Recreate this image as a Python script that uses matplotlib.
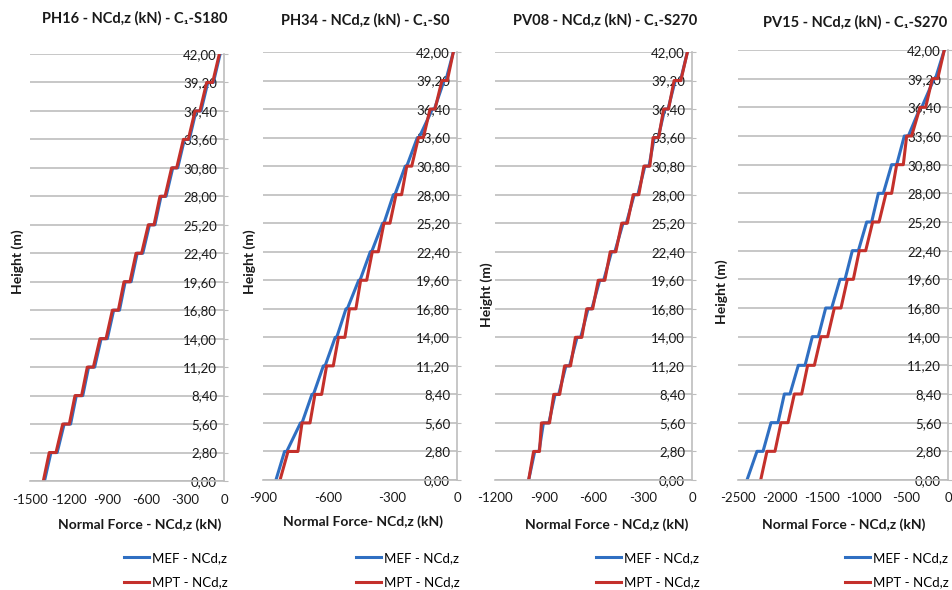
import numpy as np
import matplotlib
matplotlib.use("Agg")
import matplotlib.pyplot as plt

plt.rcParams['font.family'] = ['Lato', 'DejaVu Sans']

# floor levels (m), top to bottom
levels = [42.0, 39.2, 36.4, 33.6, 30.8, 28.0, 25.2, 22.4, 19.6, 16.8, 14.0, 11.2, 8.4, 5.6, 2.8, 0.0]
level_labels = ['42,00', '39,20', '36,40', '33,60', '30,80', '28,00', '25,20', '22,40',
                '19,60', '16,80', '14,00', '11,20', '8,40', '5,60', '2,80', '0,00']

# normal force (kN) just above / just below each floor level
ph16_mef_above = [-30, -82, -178, -268, -358, -448, -534, -628, -718, -808, -902, -1000, -1092, -1186, -1290, -1388]
ph16_mef_below = [-30, -125, -216, -306, -396, -487, -576, -671, -764, -853, -950, -1047, -1142, -1236, -1338, -1388]
ph16_mpt_above = [-36, -88, -186, -276, -366, -456, -541, -637, -727, -817, -912, -1010, -1101, -1196, -1299, -1397]
ph16_mpt_below = [-36, -134, -224, -314, -405, -495, -585, -680, -773, -863, -959, -1057, -1152, -1247, -1351, -1397]

ph34_mef_above = [-17, -52, -105, -176, -233, -288, -339, -396, -450, -509, -558, -612, -666, -719, -790, -840]
ph34_mef_below = [-17, -60, -114, -184, -240, -295, -345, -402, -456, -515, -565, -620, -673, -726, -800, -840]
ph34_mpt_above = [-17, -45, -102, -156, -210, -257, -311, -365, -419, -469, -520, -574, -628, -682, -738, -821]
ph34_mpt_below = [-17, -70, -125, -179, -233, -283, -339, -393, -447, -499, -550, -605, -659, -719, -784, -821]

pv08_mef_above = [-28, -70, -146, -206, -262, -330, -400, -470, -538, -610, -678, -746, -812, -872, -932, -995]
pv08_mef_below = [-28, -102, -166, -230, -287, -352, -420, -490, -562, -633, -700, -768, -834, -905, -958, -995]
pv08_mpt_above = [-28, -68, -143, -203, -257, -324, -394, -464, -531, -605, -671, -740, -806, -868, -929, -995]
pv08_mpt_below = [-28, -109, -173, -237, -293, -358, -428, -498, -571, -641, -710, -776, -842, -917, -965, -995]

pv15_mef_above = [-44, -150, -313, -472, -611, -770, -909, -1067, -1226, -1385, -1544, -1702, -1881, -2024, -2202, -2393]
pv15_mef_below = [-44, -165, -330, -520, -671, -829, -968, -1139, -1286, -1456, -1615, -1782, -1948, -2107, -2274, -2393]
pv15_mpt_above = [-44, -123, -266, -433, -532, -671, -821, -980, -1127, -1274, -1433, -1591, -1742, -1905, -2060, -2230]
pv15_mpt_below = [-44, -187, -333, -492, -611, -738, -897, -1056, -1198, -1353, -1512, -1671, -1829, -1988, -2155, -2230]

titles = ['PH16 - NCd,z (kN) - C\u2081-S180', 'PH34 - NCd,z (kN) - C\u2081-S0',
          'PV08 - NCd,z (kN) - C\u2081-S270', 'PV15 - NCd,z (kN) - C\u2081-S270']
xlabels = ['Normal Force - NCd,z (kN)', 'Normal Force- NCd,z (kN)',
           'Normal Force - NCd,z (kN)', 'Normal Force - NCd,z (kN)']
xticks_all = [[-1500, -1200, -900, -600, -300, 0], [-900, -600, -300, 0],
              [-1200, -900, -600, -300, 0], [-2500, -2000, -1500, -1000, -500, 0]]
series = [(ph16_mef_above, ph16_mef_below, ph16_mpt_above, ph16_mpt_below),
          (ph34_mef_above, ph34_mef_below, ph34_mpt_above, ph34_mpt_below),
          (pv08_mef_above, pv08_mef_below, pv08_mpt_above, pv08_mpt_below),
          (pv15_mef_above, pv15_mef_below, pv15_mpt_above, pv15_mpt_below)]

# layout in pixels: axes (left, top, right, bottom), title x/y, ylabel x/y, xlabel x/y, legend x
W, H = 952, 590
boxes = [(30, 54, 224, 481), (263, 52, 457, 480), (495, 52, 692, 480), (738, 50, 948, 480)]
title_pos = [(135, 18), (365, 20), (605, 20), (855, 22)]
ylab_pos = [(18, 262), (250, 262), (487, 295), (722, 292)]
xlab_pos = [(140, 525), (363, 522), (607, 525), (844, 525)]
leg_x = [124, 356, 596, 845]

BLUE = '#2f6fc2'
RED = '#c4302b'
GRID = '#bdbdbd'
TXT = '#1a1a1a'

fig = plt.figure(figsize=(W / 100, H / 100), dpi=100)


def path(above, below):
    xs, ys = [], []
    for h, a, b in zip(levels, above, below):
        xs += [a, b]
        ys += [h, h]
    return xs, ys


for i in range(4):
    l, t, r, b = boxes[i]
    ax = fig.add_axes([l / W, 1 - b / H, (r - l) / W, (b - t) / H])
    mef_a, mef_b, mpt_a, mpt_b = series[i]
    xs, ys = path(mef_a, mef_b)
    ax.plot(xs, ys, color=BLUE, lw=2.2, label='MEF - NCd,z', solid_joinstyle='round')
    xs, ys = path(mpt_a, mpt_b)
    ax.plot(xs, ys, color=RED, lw=2.2, label='MPT - NCd,z', solid_joinstyle='round')

    xt = xticks_all[i]
    ax.set_xlim(xt[0], 0)
    ax.set_ylim(0, 42)
    ax.set_xticks(xt)
    ax.set_xticklabels([str(v) for v in xt])
    ax.set_yticks(levels)
    ax.set_yticklabels(level_labels)
    ax.grid(axis='y', color=GRID, lw=1.2)
    ax.set_axisbelow(True)
    for s in ['top', 'left']:
        ax.spines[s].set_visible(False)
    for s in ['right', 'bottom']:
        ax.spines[s].set_color(GRID)
        ax.spines[s].set_linewidth(1.2)
    ax.tick_params(axis='x', length=0, pad=9, labelsize=9.5, labelcolor=TXT)
    ax.yaxis.tick_right()
    ax.tick_params(axis='y', direction='out', length=3, color=GRID, pad=-8,
                   labelsize=9.5, labelcolor=TXT)
    for tk in ax.yaxis.get_major_ticks():
        tk.label2.set_horizontalalignment('right')

    fig.text(title_pos[i][0] / W, 1 - title_pos[i][1] / H, titles[i], ha='center', va='center',
             fontsize=10.5, fontweight='bold', color=TXT)
    fig.text(ylab_pos[i][0] / W, 1 - ylab_pos[i][1] / H, 'Height (m)', ha='center', va='center',
             rotation=90, fontsize=10, fontweight='bold', color=TXT)
    fig.text(xlab_pos[i][0] / W, 1 - xlab_pos[i][1] / H, xlabels[i], ha='center', va='center',
             fontsize=10, fontweight='bold', color=TXT)
    ax.legend(loc='upper left', bbox_to_anchor=(leg_x[i] / W, 1 - 552 / H),
              bbox_transform=fig.transFigure, frameon=False, fontsize=9.5,
              handlelength=1.9, handletextpad=0.2, labelspacing=0.95,
              borderpad=0, borderaxespad=0)

fig.savefig('out.png', dpi=100)
